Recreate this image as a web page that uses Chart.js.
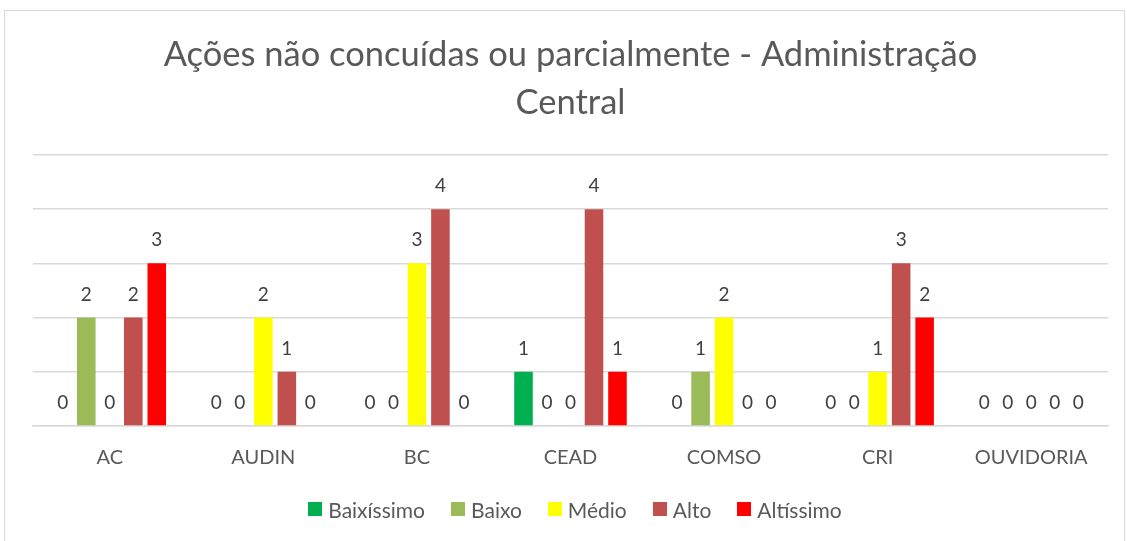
<!DOCTYPE html>
<html><head><meta charset="utf-8">
<script src="https://cdn.jsdelivr.net/npm/chart.js@4.4.0/dist/chart.umd.min.js"></script>
<style>
html,body{margin:0;padding:0;background:#fff;}
#wrap{width:1127px;height:541px;position:relative;overflow:hidden;}
#legend{position:absolute;left:0;width:1150px;top:497px;height:24px;display:flex;justify-content:center;align-items:center;
  font-family:Lato,"Open Sans",sans-serif;font-size:21px;color:#595959;}
#legend .item{display:flex;align-items:center;margin:0 13px;}
#legend .box{width:14px;height:14px;margin-right:6px;}
</style>
</head><body><div id="wrap"><canvas id="c" width="1127" height="541"></canvas><div id="legend"></div></div>
<script>
const categories = ['AC','AUDIN','BC','CEAD','COMSO','CRI','OUVIDORIA'];
const seriesNames = ['Baixíssimo','Baixo','Médio','Alto','Altíssimo'];
const baixissimo = [0,0,0,1,0,0,0];
const baixo      = [2,0,0,0,1,0,0];
const medio      = [0,2,3,0,2,1,0];
const alto       = [2,1,4,4,0,3,0];
const altissimo  = [3,0,0,1,0,2,0];
const colors = ['#00B050','#9BBB59','#FFFF00','#C0504D','#FF0000'];
const values = [baixissimo,baixo,medio,alto,altissimo];
const FONT = 'Lato, "Open Sans", sans-serif';

const labelPlugin = {
  id:'vals',
  afterDatasetsDraw(chart){
    const ctx = chart.ctx;
    ctx.save();
    ctx.font = '19px ' + FONT;
    ctx.fillStyle = '#404040';
    ctx.textAlign = 'center';
    ctx.textBaseline = 'middle';
    chart.data.datasets.forEach((ds,i)=>{
      const meta = chart.getDatasetMeta(i);
      meta.data.forEach((el,j)=>{
        ctx.fillText(String(ds.data[j]), el.x, el.y - 23);
      });
    });
    ctx.restore();
  }
};
const borderPlugin = {
  id:'border',
  beforeDraw(chart){
    const ctx = chart.ctx;
    ctx.save();
    ctx.fillStyle='#fff';
    ctx.fillRect(0,0,chart.width,chart.height);
    ctx.strokeStyle='#d9d9d9';
    ctx.lineWidth=1;
    ctx.strokeRect(4.5,10.5,1120,540);
    ctx.restore();
  }
};

const chart = new Chart(document.getElementById('c'),{
  type:'bar',
  data:{
    labels:categories,
    datasets: seriesNames.map((n,i)=>({label:n,data:values[i],backgroundColor:colors[i],borderWidth:0,
      categoryPercentage:0.765,barPercentage:0.79}))
  },
  options:{
    responsive:false,animation:false,
    layout:{padding:{left:33,right:19,top:10,bottom:51}},
    plugins:{
      title:{display:true,text:['Ações não concuídas ou parcialmente - Administração','Central'],
        color:'#595959',font:{family:FONT,size:34.5,weight:'normal',lineHeight:1.39},padding:{top:21,bottom:28}},
      legend:{display:false},
      tooltip:{enabled:false}
    },
    scales:{
      x:{grid:{display:false,drawTicks:false},border:{color:'#d9d9d9',width:1.5},
        ticks:{color:'#595959',font:{family:FONT,size:20},padding:20}},
      y:{min:0,max:5,ticks:{display:false,stepSize:1},grid:{color:'#d9d9d9',lineWidth:1.5,drawTicks:false},border:{display:false}}
    }
  },
  plugins:[borderPlugin,labelPlugin]
});

const legendEl = document.getElementById('legend');
chart.data.datasets.forEach(ds=>{
  const it = document.createElement('div'); it.className='item';
  const b = document.createElement('span'); b.className='box'; b.style.background=ds.backgroundColor;
  const t = document.createElement('span'); t.textContent=ds.label;
  it.appendChild(b); it.appendChild(t); legendEl.appendChild(it);
});
</script></body></html>
